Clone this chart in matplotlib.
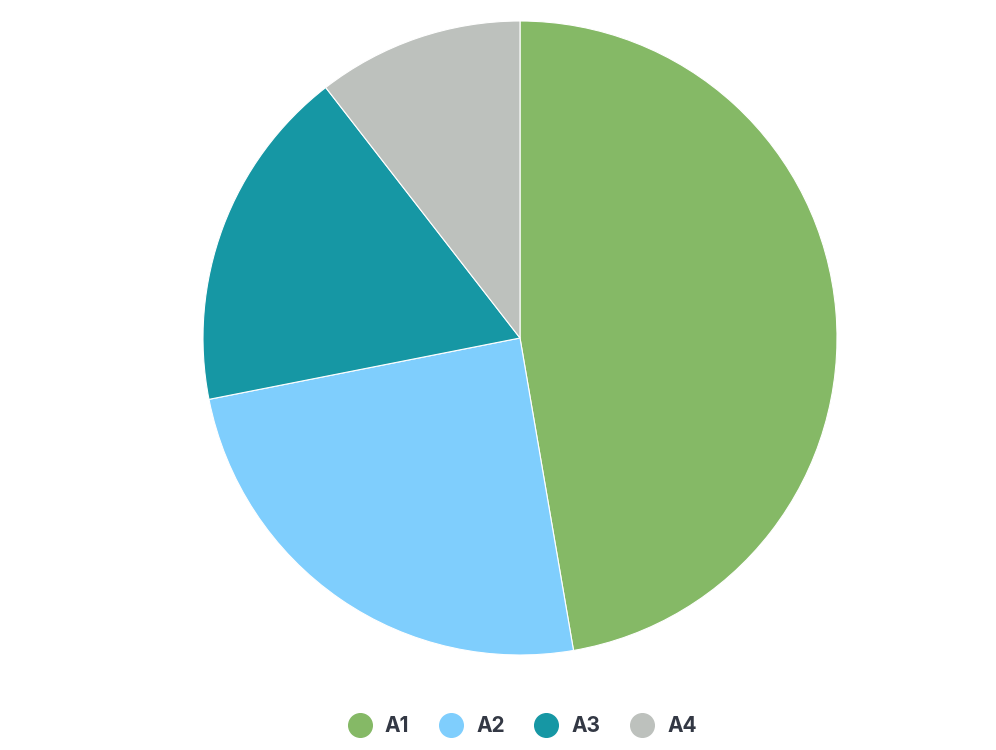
import matplotlib.pyplot as plt
from matplotlib.lines import Line2D

labels = ["A1", "A2", "A3", "A4"]
values = [47.3, 24.6, 17.6, 10.5]
colors = ["#85b966", "#7fcefd", "#1697a4", "#bdc1bd"]

W, H = 996, 750
fig = plt.figure(figsize=(W / 100, H / 100), dpi=100)

# pie centre (520, 338) px, radius 317 px
half = 340
cx, cy = 520, H - 338
ax = fig.add_axes([(cx - half) / W, (cy - half) / H, 2 * half / W, 2 * half / H])
ax.pie(values, colors=colors, startangle=90, counterclock=False, radius=1,
       wedgeprops=dict(edgecolor="white", linewidth=0.8))
lim = half / 317
ax.set_xlim(-lim, lim)
ax.set_ylim(-lim, lim)
ax.set_aspect("equal")
ax.axis("off")

handles = [Line2D([], [], marker="o", linestyle="", markersize=17,
                  markerfacecolor=c, markeredgecolor=c) for c in colors]
fig.legend(handles, labels, loc="center", bbox_to_anchor=(522 / W, (H - 726) / H),
           ncol=4, frameon=False, handlelength=1.2, handletextpad=0.6,
           columnspacing=1.4,
           prop={"family": "Inter", "weight": "bold", "size": 15},
           labelcolor="#333844")

fig.savefig("out.png", dpi=100)
